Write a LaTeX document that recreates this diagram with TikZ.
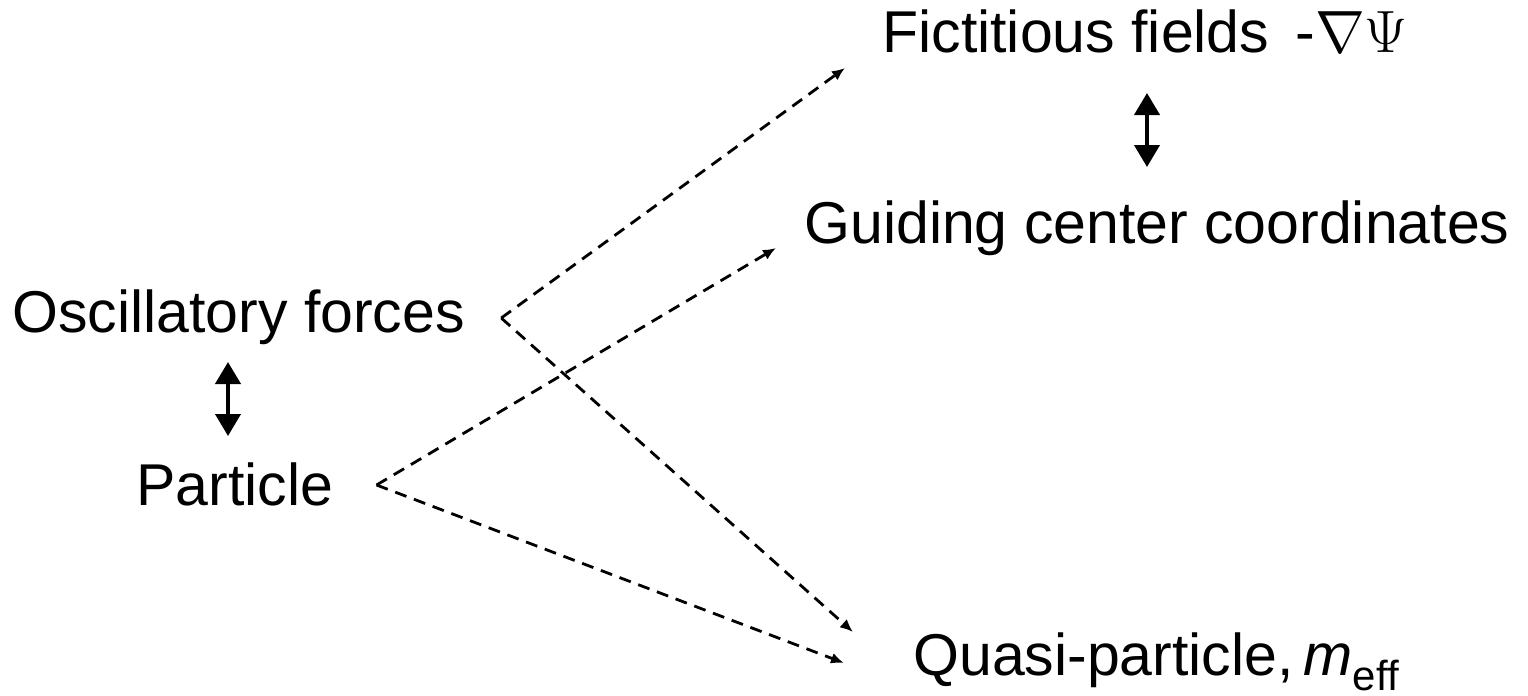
\documentclass[tikz,border=0pt]{standalone}
\usepackage{fontspec}
\setmainfont{Liberation Sans}
\usetikzlibrary{arrows.meta,calc,positioning}

\begin{document}
\begin{tikzpicture}[x=0.5pt,y=-0.5pt,>=Latex]

  \tikzstyle{T}=[inner sep=0pt,anchor=base west,font=\fontsize{29.5}{35}\selectfont];
  \tikzstyle{dashline}=[line width=1.4pt,dash pattern=on 6pt off 4pt,
    -{Latex[length=6.5pt,width=5.5pt]}];
  \tikzstyle{updown}=[line width=2pt,{Triangle[length=11pt,width=12.5pt]}-{Triangle[length=11pt,width=12.5pt]}];

  \useasboundingbox (0,0) rectangle (1528,696);

  \node [T] (osc) at (12,332) {Oscillatory forces};
  \node [T] (pa) at (136,505) {Particle};

  \node [T] (fic) at (882,53) {Fictitious fields \,-\scalebox{1.2}{$\nabla\Psi$}};
  \node [T] (gc) at (804,243) {Guiding center coordinates};
  \node [T] (qp) at (913,675) {Quasi-particle,\,\textit{m}\raisebox{-7.5pt}{\fontsize{21}{24}\selectfont eff}};

  %% ends of the dashed lines
  \coordinate (oscR) at ($(osc.base east)+(36,-14)$);
  \coordinate (paR) at ($(pa.base east)+(43,-20)$);
  \coordinate (ficL) at ($(fic.base west)+(-37,15)$);
  \coordinate (gcL) at ($(gc.base west)+(-28,5)$);
  \coordinate (qpA) at ($(qp.base west)+(-60,-43)$);
  \coordinate (qpB) at ($(qp.base west)+(-69,-12)$);

  \draw[dashline] (oscR) -- (ficL);
  \draw[dashline] (oscR) -- (qpA);
  \draw[dashline] (paR) -- (gcL);
  \draw[dashline] (paR) -- (qpB);

  %% equivalences
  \draw[updown] ($(osc.base west)+(216,30)$) -- ++(0,74);
  \draw[updown] ($(gc.base west)+(343,-150)$) -- ++(0,74);

\end{tikzpicture}
\end{document}
